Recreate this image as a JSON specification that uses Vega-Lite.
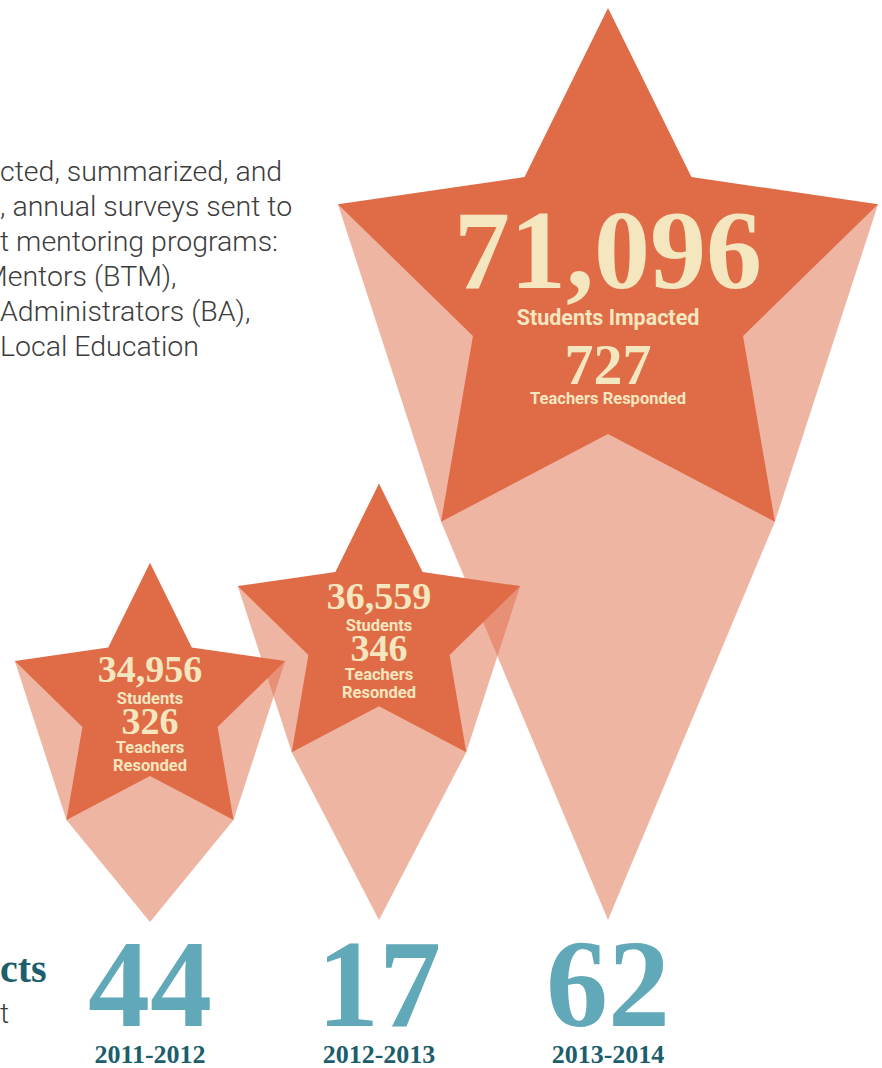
{
  "$schema": "https://vega.github.io/schema/vega-lite/v6.json",
  "width": 882,
  "height": 1068,
  "autosize": "none",
  "padding": 0,
  "background": "#ffffff",
  "config": {"view": {"stroke": null}},
  "data": {
    "values": [
      {"year": "2011-2012", "students": 34956, "teachers": 326, "districts": 44},
      {"year": "2012-2013", "students": 36559, "teachers": 346, "districts": 17},
      {"year": "2013-2014", "students": 71096, "teachers": 727, "districts": 62}
    ]
  },
  "encoding": {
    "x": {"field": "year", "type": "ordinal", "axis": null,
      "scale": {"type": "point", "domain": ["2011-2012", "2012-2013", "2013-2014"], "range": [150, 608], "padding": 0}}
  },
  "layer": [
    {
      "mark": {"type": "point", "filled": true, "color": "#e06c47", "opacity": 0.5, "strokeWidth": 0},
      "encoding": {
        "y": {"field": "students", "type": "quantitative", "axis": null,
          "scale": {"domain": [34956, 36559, 71096], "range": [705, 632, 292], "zero": false, "nice": false}},
        "size": {"field": "students", "type": "quantitative", "legend": null,
          "scale": {"type": "pow", "exponent": 1.95, "domain": [0, 71096], "range": [0, 322624]}},
        "shape": {"field": "year", "type": "nominal", "legend": null,
          "scale": {"domain": ["2011-2012", "2012-2013", "2013-2014"],
            "range": [
              "M-0.95106,-0.30902L-0.58779,0.80902L0,1.527L0.58779,0.80902L0.95106,-0.30902Z",
              "M-0.95106,-0.30902L-0.58779,0.80902L0,1.939L0.58779,0.80902L0.95106,-0.30902Z",
              "M-0.95106,-0.30902L-0.58779,0.80902L0,2.211L0.58779,0.80902L0.95106,-0.30902Z"
            ]}}
      }
    },
    {
      "mark": {"type": "point", "filled": true, "color": "#e06c47", "opacity": 1, "strokeWidth": 0,
        "shape": "M0,-1L0.29389,-0.40451L0.95106,-0.30902L0.47553,0.15451L0.58779,0.80902L0,0.5L-0.58779,0.80902L-0.47553,0.15451L-0.95106,-0.30902L-0.29389,-0.40451Z"},
      "encoding": {
        "y": {"field": "students", "type": "quantitative"},
        "size": {"field": "students", "type": "quantitative"}
      }
    },
    {
      "transform": [{"filter": "datum.year != '2013-2014'"}],
      "mark": {"type": "text", "font": "Liberation Serif", "fontWeight": "bold", "fontSize": 38, "color": "#f4e6bf", "baseline": "middle", "dy": -34},
      "encoding": {"y": {"field": "students", "type": "quantitative"}, "text": {"field": "students", "type": "quantitative", "format": ",d"}}
    },
    {
      "transform": [{"filter": "datum.year != '2013-2014'"}],
      "mark": {"type": "text", "font": "Roboto", "fontWeight": "bold", "fontSize": 16.5, "color": "#f4e6bf", "baseline": "middle", "dy": -6.5, "text": "Students"},
      "encoding": {"y": {"field": "students", "type": "quantitative"}}
    },
    {
      "transform": [{"filter": "datum.year != '2013-2014'"}],
      "mark": {"type": "text", "font": "Liberation Serif", "fontWeight": "bold", "fontSize": 38, "color": "#f4e6bf", "baseline": "middle", "dy": 18.4},
      "encoding": {"y": {"field": "students", "type": "quantitative"}, "text": {"field": "teachers", "type": "quantitative", "format": "d"}}
    },
    {
      "transform": [{"filter": "datum.year != '2013-2014'"}],
      "mark": {"type": "text", "font": "Roboto", "fontWeight": "bold", "fontSize": 16.5, "color": "#f4e6bf", "baseline": "middle", "dy": 43, "text": "Teachers"},
      "encoding": {"y": {"field": "students", "type": "quantitative"}}
    },
    {
      "transform": [{"filter": "datum.year != '2013-2014'"}],
      "mark": {"type": "text", "font": "Roboto", "fontWeight": "bold", "fontSize": 16.5, "color": "#f4e6bf", "baseline": "middle", "dy": 60.5, "text": "Resonded"},
      "encoding": {"y": {"field": "students", "type": "quantitative"}}
    },
    {
      "transform": [{"filter": "datum.year == '2013-2014'"}],
      "mark": {"type": "text", "font": "Liberation Serif", "fontWeight": "bold", "fontSize": 112, "color": "#f4e6bf", "baseline": "middle", "dy": -37.6},
      "encoding": {"y": {"field": "students", "type": "quantitative"}, "text": {"field": "students", "type": "quantitative", "format": ",d"}}
    },
    {
      "transform": [{"filter": "datum.year == '2013-2014'"}],
      "mark": {"type": "text", "font": "Roboto", "fontWeight": "bold", "fontSize": 21.5, "color": "#f4e6bf", "baseline": "middle", "dy": 26.7, "text": "Students Impacted"},
      "encoding": {"y": {"field": "students", "type": "quantitative"}}
    },
    {
      "transform": [{"filter": "datum.year == '2013-2014'"}],
      "mark": {"type": "text", "font": "Liberation Serif", "fontWeight": "bold", "fontSize": 58, "color": "#f4e6bf", "baseline": "middle", "dy": 75.2},
      "encoding": {"y": {"field": "students", "type": "quantitative"}, "text": {"field": "teachers", "type": "quantitative", "format": "d"}}
    },
    {
      "transform": [{"filter": "datum.year == '2013-2014'"}],
      "mark": {"type": "text", "font": "Roboto", "fontWeight": "bold", "fontSize": 16.5, "color": "#f4e6bf", "baseline": "middle", "dy": 107.4, "text": "Teachers Responded"},
      "encoding": {"y": {"field": "students", "type": "quantitative"}}
    },
    {
      "mark": {"type": "text", "font": "Liberation Serif", "fontWeight": "bold", "fontSize": 124, "color": "#61a9b8", "baseline": "alphabetic"},
      "encoding": {"y": {"value": 1026}, "text": {"field": "districts", "type": "quantitative", "format": "d"}}
    },
    {
      "mark": {"type": "text", "font": "Liberation Serif", "fontWeight": "bold", "fontSize": 26, "color": "#1c5e6c", "baseline": "alphabetic"},
      "encoding": {"y": {"value": 1063}, "text": {"field": "year", "type": "nominal"}}
    },
    {
      "data": {"values": [{}]},
      "mark": {"type": "text", "font": "Roboto", "fontWeight": 300, "fontSize": 28.5, "lineHeight": 35, "color": "#3c3c3c", "align": "left", "baseline": "alphabetic",
        "text": ["cted, summarized, and", ", annual surveys sent to", "t mentoring programs:"]},
      "encoding": {"x": {"value": 0}, "y": {"value": 181}}
    },
    {
      "data": {"values": [{}]},
      "mark": {"type": "text", "font": "Roboto", "fontWeight": 300, "fontSize": 28.5, "color": "#3c3c3c", "align": "left", "baseline": "alphabetic", "text": "Mentors (BTM),"},
      "encoding": {"x": {"value": -17}, "y": {"value": 286}}
    },
    {
      "data": {"values": [{}]},
      "mark": {"type": "text", "font": "Roboto", "fontWeight": 300, "fontSize": 28.5, "lineHeight": 35, "color": "#3c3c3c", "align": "left", "baseline": "alphabetic",
        "text": ["\u00a0\u00a0Administrators (BA),", "Local Education"]},
      "encoding": {"x": {"value": 0}, "y": {"value": 321}}
    },
    {
      "data": {"values": [{}]},
      "mark": {"type": "text", "font": "Liberation Serif", "fontWeight": "bold", "fontSize": 40, "color": "#1c5e6c", "align": "left", "baseline": "alphabetic", "text": "cts"},
      "encoding": {"x": {"value": 0}, "y": {"value": 982}}
    },
    {
      "data": {"values": [{}]},
      "mark": {"type": "text", "font": "Roboto", "fontWeight": 300, "fontSize": 28.5, "color": "#3c3c3c", "align": "left", "baseline": "alphabetic", "text": "t"},
      "encoding": {"x": {"value": 0}, "y": {"value": 1023}}
    }
  ]
}
